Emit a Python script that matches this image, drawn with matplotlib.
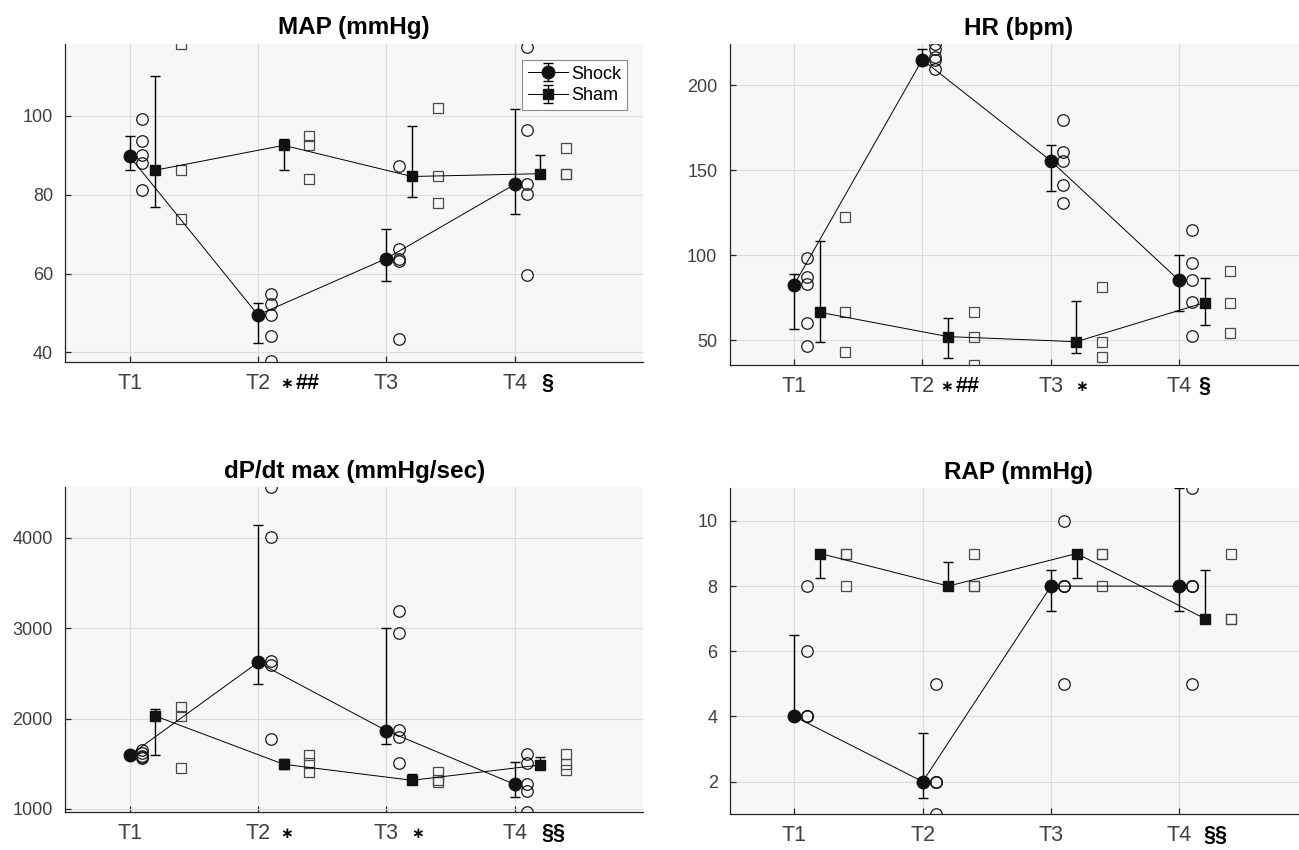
import numpy as np
import matplotlib
matplotlib.use("Agg")
import matplotlib.pyplot as plt

plt.rcParams['font.family'] = ['Liberation Sans', 'DejaVu Sans']

# ---------------- data ----------------
times = ['T1', 'T2', 'T3', 'T4']

# MAP (mmHg)
map_shock_med = [89.7, 49.5, 63.8, 82.6]
map_shock_lo = [86.2, 42.4, 58.2, 75.0]
map_shock_hi = [94.8, 52.6, 71.4, 101.6]
map_shock_pts = [[99.2, 93.5, 90.0, 88.1, 81.2],
                 [54.9, 52.2, 49.5, 44.1, 37.9],
                 [87.3, 66.3, 63.8, 63.1, 43.5],
                 [117.5, 96.4, 82.6, 80.2, 59.7]]
map_sham_med = [86.2, 92.5, 84.6, 85.3]
map_sham_lo = [76.8, 86.2, 79.5, 85.3]
map_sham_hi = [110.1, 94.2, 97.5, 90.1]
map_sham_pts = [[118.1, 86.2, 73.7],
                [94.8, 92.5, 84.0],
                [101.9, 84.6, 77.9],
                [91.8, 85.3, 85.3]]

# HR (bpm)
hr_shock_med = [82.5, 215.1, 155.7, 85.3]
hr_shock_lo = [56.5, 212.0, 138.0, 67.3]
hr_shock_hi = [88.8, 221.2, 164.7, 100.4]
hr_shock_pts = [[98.6, 87.1, 82.9, 60.2, 46.7],
                [224.1, 221.2, 216.5, 214.7, 209.6],
                [179.6, 160.6, 155.7, 141.2, 130.6],
                [115.1, 95.7, 85.3, 72.5, 52.5]]
hr_sham_med = [66.5, 52.2, 49.2, 72.2]
hr_sham_lo = [48.8, 39.6, 42.4, 58.8]
hr_sham_hi = [108.4, 62.9, 73.3, 86.5]
hr_sham_pts = [[122.5, 66.5, 43.0],
               [66.7, 52.2, 35.5],
               [81.6, 49.2, 40.4],
               [91.0, 72.2, 54.1]]

# dP/dt max (mmHg/sec)
dp_shock_med = [1593, 2621, 1866, 1272]
dp_shock_lo = [1570, 2378, 1718, 1132]
dp_shock_hi = [1620, 4136, 2997, 1523]
dp_shock_pts = [[1650, 1620, 1590, 1570, 1560],
                [4560, 4007, 2632, 2588, 1774],
                [3189, 2942, 1873, 1796, 1512],
                [1608, 1512, 1272, 1195, 970]]
dp_sham_med = [2028, 1494, 1317, 1486]
dp_sham_lo = [1593, 1438, 1276, 1442]
dp_sham_hi = [2102, 1553, 1383, 1578]
dp_sham_pts = [[2131, 2028, 1449],
               [1593, 1505, 1405],
               [1412, 1324, 1300],
               [1611, 1494, 1427]]

# RAP (mmHg)
rap_shock_med = [4, 2, 8, 8]
rap_shock_lo = [4, 1.5, 7.25, 7.25]
rap_shock_hi = [6.5, 3.5, 8.5, 11]
rap_shock_pts = [[8, 6, 4, 4, 4],
                 [5, 2, 2, 2, 1],
                 [10, 8, 8, 8, 5],
                 [11, 8, 8, 8, 5]]
rap_sham_med = [9, 8, 9, 7]
rap_sham_lo = [8.25, 8, 8.25, 7]
rap_sham_hi = [9, 8.75, 9, 8.5]
rap_sham_pts = [[9, 9, 8],
                [9, 8, 8],
                [9, 9, 8],
                [9, 7, 7]]

# x-tick annotations: (time index, text, offset)
map_notes = [(1, '*', 0.22), (1, '##', 0.29), (3, '\u00a7', 0.21)]
hr_notes = [(1, '*', 0.19), (1, '##', 0.26), (2, '*', 0.24), (3, '\u00a7', 0.15)]
dp_notes = [(1, '*', 0.22), (2, '*', 0.24), (3, '\u00a7\u00a7', 0.21)]
rap_notes = [(3, '\u00a7\u00a7', 0.19)]

panels = [
    dict(title='MAP (mmHg)', rect=[0.0504, 0.5738, 0.4446, 0.3745],
         ylim=(37.5, 118.2), yticks=[40, 60, 80, 100],
         sh=(map_shock_med, map_shock_lo, map_shock_hi, map_shock_pts),
         sm=(map_sham_med, map_sham_lo, map_sham_hi, map_sham_pts),
         notes=map_notes, legend=True),
    dict(title='HR (bpm)', rect=[0.5618, 0.5702, 0.4446, 0.3776],
         ylim=(35.3, 224.1), yticks=[50, 100, 150, 200],
         sh=(hr_shock_med, hr_shock_lo, hr_shock_hi, hr_shock_pts),
         sm=(hr_sham_med, hr_sham_lo, hr_sham_hi, hr_sham_pts),
         notes=hr_notes, legend=False),
    dict(title='dP/dt max (mmHg/sec)', rect=[0.0504, 0.0451, 0.4446, 0.3814],
         ylim=(970, 4555), yticks=[1000, 2000, 3000, 4000],
         sh=(dp_shock_med, dp_shock_lo, dp_shock_hi, dp_shock_pts),
         sm=(dp_sham_med, dp_sham_lo, dp_sham_hi, dp_sham_pts),
         notes=dp_notes, legend=False),
    dict(title='RAP (mmHg)', rect=[0.5621, 0.0421, 0.4446, 0.3834],
         ylim=(1.0, 11.0), yticks=[2, 4, 6, 8, 10],
         sh=(rap_shock_med, rap_shock_lo, rap_shock_hi, rap_shock_pts),
         sm=(rap_sham_med, rap_sham_lo, rap_sham_hi, rap_sham_pts),
         notes=rap_notes, legend=False),
]

AX_COLOR = '#262626'
LBL_COLOR = '#404040'
XPAD = 8

fig = plt.figure(figsize=(12.99, 8.5), dpi=100)

for p in panels:
    ax = fig.add_axes(p['rect'])
    ax.set_facecolor('#f7f7f7')
    x = np.arange(1, len(times) + 1)

    def draw_group(vals, dx, fmt, ms, pts_marker, pts_ms, pts_color, pts_dx, label):
        med, lo, hi, pts = vals
        med = np.asarray(med, float)
        yerr = [med - np.asarray(lo, float), np.asarray(hi, float) - med]
        ax.errorbar(x + dx, med, yerr=yerr, fmt=fmt, color='black', mfc='#111111',
                    mec='#111111', ms=ms, lw=0.7, elinewidth=1.0, capsize=3.6,
                    capthick=1.0, zorder=4, label=label)
        for xi, vals_i in zip(x, pts):
            ax.plot(np.full(len(vals_i), xi + pts_dx), vals_i, linestyle='none',
                    marker=pts_marker, ms=pts_ms, mfc='none', mec=pts_color,
                    mew=0.9, zorder=3)

    draw_group(p['sh'], 0.0, '-o', 9.0, 'o', 8.3, '#1a1a1a', 0.1, 'Shock')
    draw_group(p['sm'], 0.2, '-s', 7.3, 's', 6.6, '#4a4a4a', 0.4, 'Sham')

    ax.set_xlim(0.5, 5.0)
    ax.set_ylim(*p['ylim'])
    ax.set_xticks(x)
    ax.set_xticklabels(times)
    ax.set_yticks(p['yticks'])
    ax.grid(True, color='#dcdcdc', lw=0.8, zorder=0)
    ax.set_axisbelow(True)
    for s in ['top', 'right']:
        ax.spines[s].set_visible(False)
    for s in ['left', 'bottom']:
        ax.spines[s].set_color(AX_COLOR)
        ax.spines[s].set_linewidth(0.9)
    ax.tick_params(axis='both', direction='in', length=4.3, width=0.9, color=AX_COLOR)
    ax.tick_params(axis='x', labelsize=15.5, labelcolor=LBL_COLOR, pad=XPAD)
    ax.tick_params(axis='y', labelsize=13, labelcolor=LBL_COLOR, pad=9)
    ax.set_title(p['title'], fontsize=17.5, fontweight='bold', color='black', pad=7)

    for idx, txt, off in p['notes']:
        if txt == '*':
            ax.annotate('\u2217', xy=(x[idx] + off, 0), xycoords=('data', 'axes fraction'),
                        xytext=(0, -XPAD - 7.5), textcoords='offset points',
                        ha='center', va='center', fontsize=11, fontweight='bold',
                        family=['DejaVu Sans'], color='black', annotation_clip=False)
        else:
            ax.annotate(txt, xy=(x[idx] + off, 0), xycoords=('data', 'axes fraction'),
                        xytext=(0, -XPAD), textcoords='offset points',
                        ha='left', va='top', fontsize=15.5, fontweight='bold',
                        color='black', annotation_clip=False)

    if p['legend']:
        leg = ax.legend(loc='upper right', fontsize=13, frameon=True, fancybox=False,
                        edgecolor='#8a8a8a', facecolor='white', framealpha=1,
                        handlelength=2.2, handletextpad=0.2, borderpad=0.3,
                        labelspacing=0.25, borderaxespad=0.9)
        leg.get_frame().set_linewidth(0.8)

fig.savefig('out.png', dpi=100)
